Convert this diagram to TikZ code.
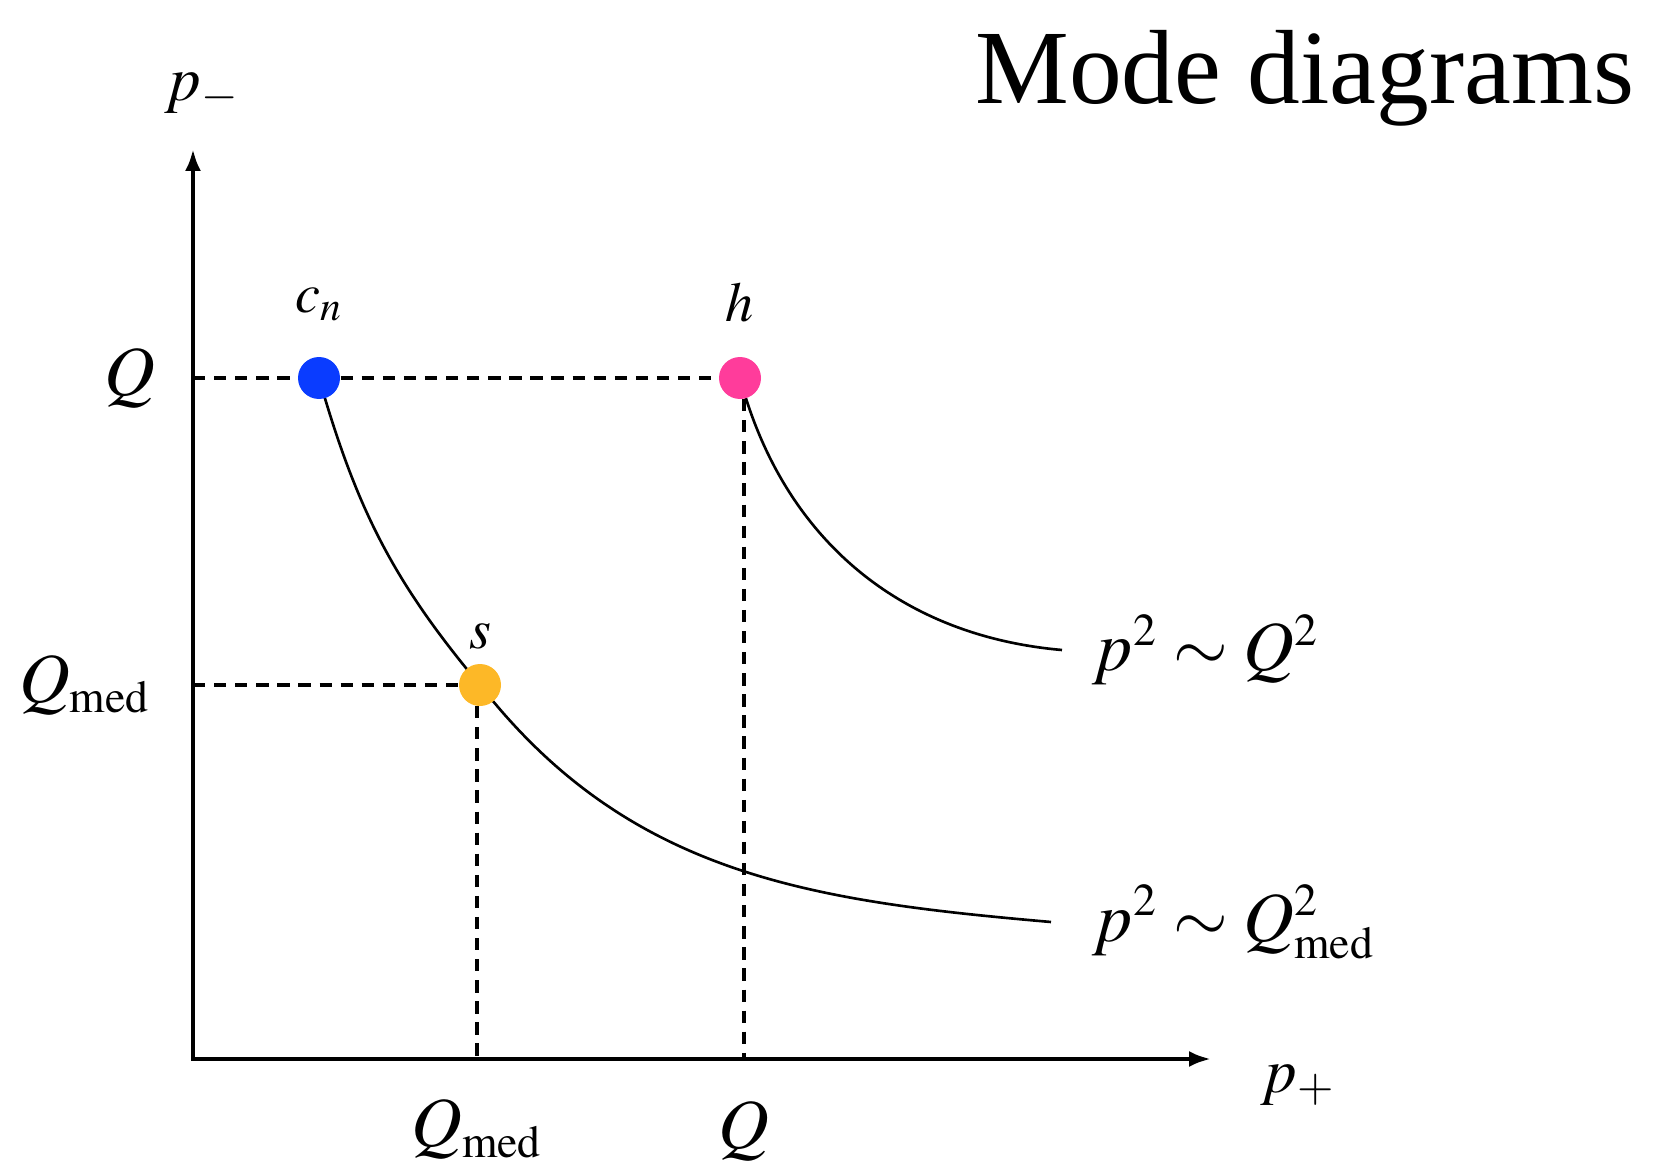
\documentclass[tikz,border=0pt]{standalone}
\usepackage{mathptmx}
\usepackage{fontspec}
\setmainfont{Liberation Serif}
\usetikzlibrary{arrows.meta, positioning}
\pgfdeclarelayer{background}
\pgfsetlayers{background,main}
\definecolor{cnblue}{HTML}{0A3CFF}
\definecolor{hpink}{HTML}{FF3C9B}
\definecolor{syellow}{HTML}{FDB827}
\DeclareMathSizes{20}{20}{13}{10}

\begin{document}
\begin{tikzpicture}[
  mode/.style={circle, minimum size=0.42cm, inner sep=0pt},
  dotlabel/.style={font=\fontsize{16}{19}\selectfont, inner sep=1pt},
  ticklabel/.style={font=\fontsize{20}{24}\selectfont, inner sep=0pt},
  axislabel/.style={font=\fontsize{18}{22}\selectfont, inner sep=0pt},
  axis/.style={line width=1.2pt, line join=miter, {Latex[length=2.2mm,width=1.6mm]}-{Latex[length=2.2mm,width=1.6mm]}},
  guide/.style={line width=1pt, dash pattern=on 3.5pt off 2.5pt},
  scaling/.style={line width=0.75pt},
  node distance=0.3cm
]
  \useasboundingbox (0,0) rectangle (16.65,11.68);

  \coordinate (origin) at (1.93,1.09);
  \coordinate (ytip) at (1.93,10.19);
  \coordinate (xtip) at (12.11,1.09);

  \node[mode, fill=cnblue]  (cn) at (3.19,7.90) {};
  \node[mode, fill=hpink]   (h)  at (7.40,7.90) {};
  \node[mode, fill=syellow] (s)  at (4.80,4.83) {};

  \coordinate (yQ) at (origin |- cn);
  \coordinate (yQmed) at (origin |- s);
  \coordinate (xQ) at ([xshift=0.04cm]h |- origin);
  \coordinate (xQmed) at ([xshift=-0.03cm]s |- origin);
  \coordinate (hardend) at (10.62,5.18);
  \coordinate (softend) at (10.51,2.46);

  \draw[axis] (ytip) -- (origin) -- (xtip);

  \node[dotlabel, above=0.31cm of cn] (cnlabel) {$c_n$};
  \node[dotlabel, above=0.30cm of h]  (hlabel)  {$h$};
  \node[dotlabel, above=0.10cm of s]  (slabel)  {$s$};

  \node[axislabel] (pminus) at (2.02,10.75) {$p_-$};
  \node[axislabel] (pplus)  at (12.98,0.83) {$p_+$};

  \node[ticklabel, left=0.37cm of yQ]     (Qleft)    {$Q$};
  \node[ticklabel, left=0.42cm of yQmed]  (Qmedleft) {$Q_{\mathrm{med}}$};
  \node[ticklabel, below=0.42cm of xQ]    (Qbottom)  {$Q$};
  \node[ticklabel, below=0.40cm of xQmed] (Qmedbottom) {$Q_{\mathrm{med}}$};

  \node[ticklabel, anchor=west, right=0.30cm of hardend] (hardlabel) {$p^2 \sim Q^2$};
  \node[ticklabel, anchor=west, right=0.41cm of softend] (softlabel) {$p^2 \sim Q_{\mathrm{med}}^2$};

  \node[font=\fontsize{30}{36}\selectfont, inner sep=0pt, anchor=base east] (title) at (16.35,10.64) {Mode diagrams};

  \begin{pgfonlayer}{background}
    \draw[guide] (yQ) -- (h.center);
    \draw[guide] (h.center |- yQ) ++(0.04,0) -- (xQ);
    \draw[guide] (yQmed) -- (s.center);
    \draw[guide] (xQmed |- s) -- (xQmed);
    \draw[scaling] (cn.center) to[out=-74, in=130] (s.center) to[out=-52, in=175] (softend);
    \draw[scaling] (h.center) to[out=-75, in=175] (hardend);
  \end{pgfonlayer}
\end{tikzpicture}
\end{document}
